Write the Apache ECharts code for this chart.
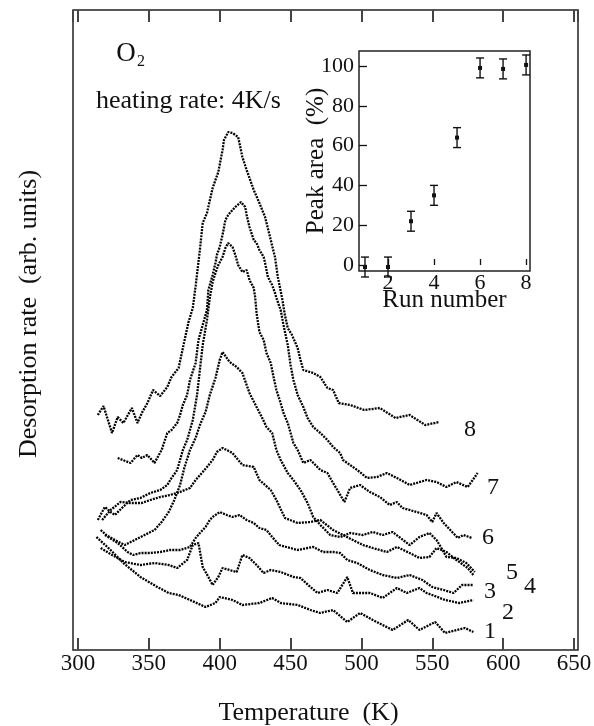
<!DOCTYPE html>
<html><head><meta charset="utf-8">
<script src="https://cdn.jsdelivr.net/npm/echarts@6/dist/echarts.min.js"></script>
<style>html,body{margin:0;padding:0;background:#fff}#c{width:594px;height:726px}</style>
</head><body><div id="c"></div>
<script>
// Main panel: [temperature (K), desorption rate (arb. units)] for each run
const run1 = [[313,113],[323,100],[332,87],[344,73],[356,63],[364,57],[371,55],[379,50],[390,43],[397,47],[400,53],[409,50],[416,45],[428,47],[437,52],[443,47],[455,45],[464,40],[471,37],[480,40],[490,28],[499,37],[508,30],[522,20],[533,30],[541,20],[552,28],[559,17],[567,20],[573,22],[579,18]];
const run2 = [[316,102],[324,95],[333,88],[344,85],[354,87],[364,85],[370,82],[377,90],[381,105],[385,107],[388,83],[392,73],[395,65],[399,73],[402,82],[407,80],[412,78],[416,95],[421,92],[426,85],[431,77],[436,80],[443,78],[452,73],[457,72],[464,63],[469,57],[476,60],[483,57],[490,73],[494,57],[506,57],[515,52],[525,62],[532,57],[541,62],[546,57],[550,55],[559,50],[569,47],[579,50]];
const run3 = [[319,115],[328,107],[335,98],[339,95],[344,97],[351,97],[358,98],[365,100],[372,100],[379,103],[383,112],[386,117],[390,123],[393,130],[395,133],[400,138],[405,135],[409,133],[414,135],[419,130],[424,127],[428,122],[433,120],[437,113],[442,105],[447,103],[455,100],[462,102],[466,103],[473,98],[480,98],[485,97],[490,90],[497,87],[506,80],[515,75],[525,72],[534,75],[543,70],[550,63],[558,60],[565,57],[571,65],[579,65]];
const run4 = [[317,130],[323,140],[330,148],[337,147],[345,147],[351,150],[358,153],[365,155],[372,158],[379,162],[383,170],[388,178],[391,183],[395,190],[398,198],[402,202],[409,197],[416,185],[424,183],[428,170],[436,160],[440,150],[446,132],[455,127],[464,128],[471,130],[480,120],[487,115],[494,110],[501,105],[508,102],[518,98],[525,103],[534,97],[541,92],[548,93],[553,102],[560,98],[567,90],[575,82],[579,75]];
const run5 = [[316,120],[320,115],[326,110],[333,105],[340,110],[347,115],[354,120],[359,128],[364,138],[368,150],[372,165],[375,182],[379,200],[383,212],[386,225],[390,238],[393,255],[397,272],[400,290],[402,298],[407,288],[412,283],[416,277],[421,257],[426,243],[430,232],[433,223],[437,217],[440,200],[443,190],[448,177],[452,170],[457,160],[462,147],[466,133],[471,125],[478,115],[485,113],[492,117],[501,115],[508,118],[515,115],[522,118],[534,105],[541,113],[548,117],[553,110],[556,103],[560,93],[567,92],[574,87],[580,78]];
const run6 = [[314,130],[317,138],[319,143],[323,138],[326,135],[331,142],[337,150],[344,152],[351,157],[358,160],[363,165],[366,172],[370,180],[372,190],[374,200],[377,210],[381,230],[384,255],[386,280],[388,305],[391,330],[393,352],[395,368],[397,377],[399,385],[402,393],[404,402],[406,407],[409,403],[411,395],[413,385],[416,378],[419,380],[421,370],[424,362],[425,353],[426,337],[428,318],[431,310],[433,297],[436,287],[438,273],[440,260],[443,247],[445,237],[448,227],[450,217],[452,207],[455,200],[459,187],[464,190],[471,180],[476,177],[480,167],[483,160],[488,148],[492,162],[499,165],[506,158],[513,153],[520,145],[525,148],[529,142],[539,138],[546,135],[550,128],[553,137],[558,127],[564,118],[568,112],[572,115],[578,112]];
const run7 = [[328,192],[337,187],[342,195],[345,192],[349,195],[354,187],[357,195],[359,200],[363,217],[366,220],[370,227],[372,235],[374,245],[377,255],[379,270],[383,287],[385,310],[388,325],[391,340],[392,360],[395,375],[397,387],[398,395],[400,403],[402,415],[404,430],[406,435],[409,440],[411,443],[415,448],[418,443],[419,435],[421,423],[424,410],[426,407],[428,400],[431,393],[432,387],[434,373],[437,365],[439,357],[440,352],[443,340],[445,325],[448,305],[450,285],[452,270],[455,255],[459,243],[462,232],[466,223],[471,217],[476,210],[480,203],[485,197],[487,190],[497,180],[504,172],[511,173],[518,177],[525,172],[534,165],[546,170],[553,168],[560,163],[567,168],[575,163],[582,177]];
const run8 = [[314,235],[318,244],[324,217],[328,233],[332,227],[338,242],[342,227],[345,237],[349,247],[353,260],[358,254],[363,263],[366,273],[371,282],[374,302],[378,328],[381,342],[383,364],[386,400],[388,427],[391,437],[395,462],[399,478],[402,500],[403,510],[406,518],[409,517],[413,513],[416,493],[419,480],[424,460],[428,447],[432,433],[436,410],[439,393],[441,373],[444,352],[446,335],[448,322],[451,315],[455,302],[457,290],[459,280],[466,277],[471,273],[476,262],[480,260],[484,247],[492,245],[502,240],[513,242],[524,232],[534,235],[545,225],[555,228]];
const runs = [run1, run2, run3, run4, run5, run6, run7, run8];
const runNames = ['1','2','3','4','5','6','7','8'];

// Inset: peak area vs run number
const runNumbers = [1, 2, 3, 4, 5, 6, 7, 8];
const peakArea = [-1, -1, 22, 35, 64, 99, 98.5, 100.5];
const peakErr = [5, 5, 5, 5, 5, 5, 5, 5];

const FONT = '"Liberation Serif", "Times New Roman", serif';
const ink = '#111';
const chart = echarts.init(document.getElementById('c'));

const lineSeries = runs.map((r, i) => ({
  type: 'line', name: 'Run ' + runNames[i], xAxisIndex: 0, yAxisIndex: 0,
  data: r, showSymbol: false, silent: true, animation: false,
  lineStyle: { color: '#000', width: 2.3, type: [2, 1.1] }
}));

const errSeries = {
  type: 'custom', xAxisIndex: 2, yAxisIndex: 1, silent: true, z: 10,
  data: runNumbers.map((n, i) => [n, peakArea[i], peakErr[i]]),
  renderItem: function (params, api) {
    const x = api.value(0), y = api.value(1), e = api.value(2);
    const t = api.coord([x, y + e]), b = api.coord([x, y - e]), m = api.coord([x, y]);
    const cw = 4;
    const st = { stroke: ink, lineWidth: 1.4 };
    return { type: 'group', children: [
      { type: 'line', shape: { x1: t[0], y1: t[1], x2: b[0], y2: b[1] }, style: st },
      { type: 'line', shape: { x1: t[0] - cw, y1: t[1], x2: t[0] + cw, y2: t[1] }, style: st },
      { type: 'line', shape: { x1: b[0] - cw, y1: b[1], x2: b[0] + cw, y2: b[1] }, style: st },
      { type: 'rect', shape: { x: m[0] - 2, y: m[1] - 2, width: 4, height: 4 }, style: { fill: ink } }
    ]};
  }
};

const labelPix = [[490,632],[508,613],[490,592],[530,587],[512,573],[488,538],[493,488],[470,430]];

const option = {
  animation: false,
  backgroundColor: '#fff',
  grid: [
    { left: 73, top: 10, width: 505, height: 640, outerBoundsMode: 'none', containLabel: false, show: true, borderColor: '#222', borderWidth: 1.5, backgroundColor: 'transparent' },
    { left: 359, top: 51, width: 171, height: 220, outerBoundsMode: 'none', containLabel: false, show: true, borderColor: '#222', borderWidth: 1.5, backgroundColor: '#fff', z: 5 }
  ],
  xAxis: [
    { gridIndex: 0, type: 'value', min: 296.47, max: 652.82, splitNumber: 7, position: 'bottom',
      axisLine: { show: false }, splitLine: { show: false },
      axisTick: { inside: true, length: 12, lineStyle: { color: '#444', width: 2 } },
      axisLabel: { showMinLabel: false, showMaxLabel: false, fontFamily: FONT, fontSize: 23, color: ink, margin: 2 },
      name: 'Temperature  (K)', nameLocation: 'middle', nameGap: 50, nameMoveOverlap: false,
      nameTextStyle: { fontFamily: FONT, fontSize: 26, color: ink, padding: [0, 34, 0, 0] } },
    { gridIndex: 0, type: 'value', min: 296.47, max: 652.82, splitNumber: 7, position: 'top',
      axisLine: { show: false }, splitLine: { show: false },
      axisTick: { inside: true, length: 12, lineStyle: { color: '#444', width: 2 } },
      axisLabel: { show: false } },
    { gridIndex: 1, type: 'value', min: 0.74, max: 8.17, splitNumber: 4, position: 'bottom', z: 6,
      axisLine: { show: false }, splitLine: { show: false },
      axisTick: { inside: true, length: 6, lineStyle: { color: ink, width: 1.3 } },
      axisLabel: { showMinLabel: false, showMaxLabel: false, fontFamily: FONT, fontSize: 22, color: ink, margin: 1 },
      name: 'Run number', nameLocation: 'middle', nameGap: 17, nameMoveOverlap: false,
      nameTextStyle: { fontFamily: FONT, fontSize: 25, color: ink } }
  ],
  yAxis: [
    { gridIndex: 0, type: 'value', min: 0, max: 640, position: 'left',
      axisLine: { show: false }, axisTick: { show: false }, axisLabel: { show: false }, splitLine: { show: false },
      name: 'Desorption rate  (arb. units)', nameLocation: 'middle', nameGap: 31, nameMoveOverlap: false,
      nameTextStyle: { fontFamily: FONT, fontSize: 26, color: ink, padding: [0, 0, 0, 32] } },
    { gridIndex: 1, type: 'value', min: -3, max: 107.5, splitNumber: 5, position: 'left', z: 6,
      axisLine: { show: false }, splitLine: { show: false },
      axisTick: { inside: true, length: 8, lineStyle: { color: ink, width: 1.3 } },
      axisLabel: { showMinLabel: false, showMaxLabel: false, fontFamily: FONT, fontSize: 22, color: ink, margin: 5 },
      name: 'Peak area  (%)', nameLocation: 'middle', nameGap: 30, nameMoveOverlap: false,
      nameTextStyle: { fontFamily: FONT, fontSize: 25, color: ink } }
  ],
  series: lineSeries.concat([errSeries]),
  graphic: [
    { type: 'text', x: 126, y: 54, style: { text: 'O', font: '27px ' + FONT, fill: ink, textAlign: 'center', textVerticalAlign: 'middle' } },
    { type: 'text', x: 141, y: 62, style: { text: '2', font: '16px ' + FONT, fill: ink, textAlign: 'center', textVerticalAlign: 'middle' } },
    { type: 'text', x: 96, y: 101, style: { text: 'heating rate: 4K/s', font: '26px ' + FONT, fill: ink, textAlign: 'left', textVerticalAlign: 'middle' } }
  ].concat(labelPix.map((p, i) => ({ type: 'text', x: p[0], y: p[1], style: { text: runNames[i], font: '24px ' + FONT, fill: ink, textAlign: 'center', textVerticalAlign: 'middle' } })))
};
chart.setOption(option);
</script></body></html>
